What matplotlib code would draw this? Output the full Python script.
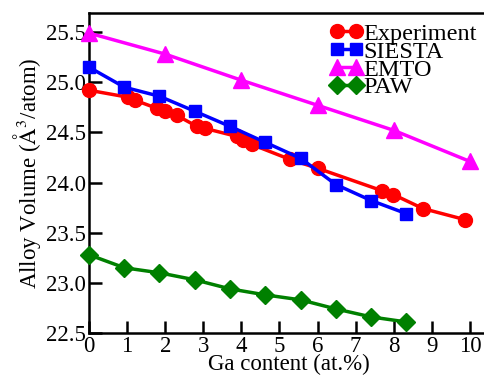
import matplotlib
matplotlib.use("Agg")
import matplotlib.pyplot as plt

plt.rcParams['font.family'] = ['Liberation Serif', 'DejaVu Serif']
plt.rcParams['mathtext.fontset'] = 'stix'

# data
exp_x = [0, 1.03, 1.21, 1.78, 2.0, 2.3, 2.83, 3.04, 3.88, 4.05, 4.27, 5.28, 6.02, 7.68, 7.99, 8.77, 9.87]
exp_y = [24.92, 24.85, 24.82, 24.74, 24.71, 24.67, 24.56, 24.54, 24.46, 24.42, 24.38, 24.23, 24.14, 23.92, 23.88, 23.74, 23.63]

calc_x = [0, 0.93, 1.85, 2.78, 3.7, 4.63, 5.56, 6.48, 7.41, 8.33]
siesta_y = [25.15, 24.95, 24.86, 24.71, 24.56, 24.40, 24.24, 23.98, 23.82, 23.69]
paw_y = [23.28, 23.15, 23.10, 23.03, 22.94, 22.88, 22.83, 22.74, 22.66, 22.61]

emto_x = [0, 2, 4, 6, 8, 10]
emto_y = [25.49, 25.28, 25.02, 24.77, 24.52, 24.21]

xticks = list(range(0, 11))
yticks = [22.5, 23.0, 23.5, 24.0, 24.5, 25.0, 25.5]

fig = plt.figure(figsize=(4.85, 3.79), dpi=100)
ax = fig.add_axes([89/485, 46/379, 400/485, 320/379])

ax.plot(exp_x, exp_y, '-o', color='red', lw=2.5, ms=10, label='Experiment', clip_on=False, zorder=3)
ax.plot(calc_x, siesta_y, '-s', color='blue', lw=2.5, ms=9, label='SIESTA', clip_on=False, zorder=4)
ax.plot(emto_x, emto_y, '-^', color='magenta', lw=2.5, ms=11, label='EMTO', clip_on=False, zorder=3)
ax.plot(calc_x, paw_y, '-D', color='green', lw=2.5, ms=9, label='PAW', clip_on=False, zorder=3)

ax.set_xlim(0, 10.5)
ax.set_ylim(22.5, 25.69)
ax.set_xticks(xticks)
ax.set_yticks(yticks)
ax.set_yticklabels(['%.1f' % v for v in yticks])
ax.tick_params(direction='in', length=9, width=1.8, labelsize=16.5, pad=2)
for s in ax.spines.values():
    s.set_linewidth(1.8)

ax.set_xlabel('Ga content (at.%)', fontsize=16.5, labelpad=-2)
ax.set_ylabel('Alloy Volume ($\\mathrm{\\AA^3}$/atom)', fontsize=16.5, labelpad=2)

ax.legend(loc='upper right', frameon=False, fontsize=17.5, numpoints=2,
          handlelength=1.4, handletextpad=0.0, labelspacing=-0.17,
          borderaxespad=0.0, bbox_to_anchor=(0.995, 1.0))

fig.savefig('out.png', dpi=100)
